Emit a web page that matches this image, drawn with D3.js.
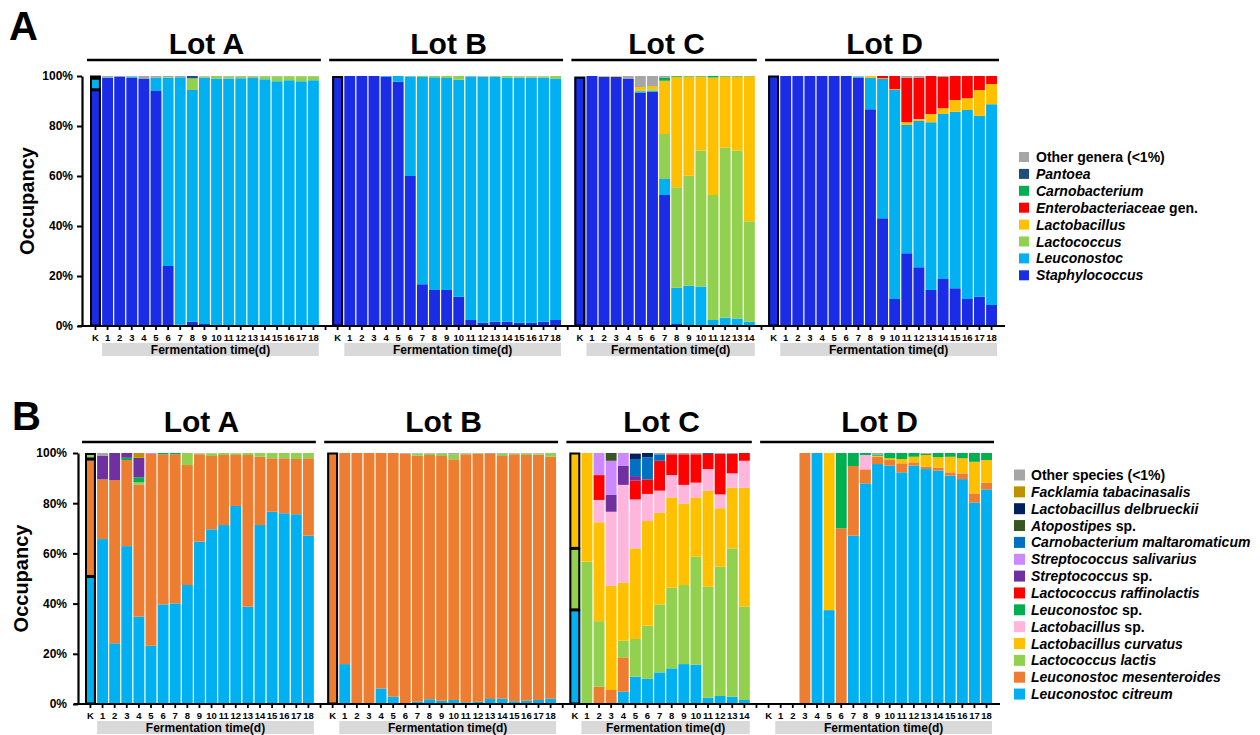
<!DOCTYPE html>
<html><head><meta charset="utf-8">
<script src="https://cdn.jsdelivr.net/npm/d3@7"></script>
<style>
body{margin:0;background:#fff;}
svg{display:block;font-family:"Liberation Sans",Arial,Helvetica,sans-serif;}
</style></head><body>
<svg id="chart" width="1260" height="735"></svg>
<script>
// ---------- categories ----------
const lotNames = ["Lot A", "Lot B", "Lot C", "Lot D"];
const days18 = ["K","1","2","3","4","5","6","7","8","9","10","11","12","13","14","15","16","17","18"];
const days14 = ["K","1","2","3","4","5","6","7","8","9","10","11","12","13","14"];
const lotDays = [days18, days18, days14, days18];
const yTicks = [0, 20, 40, 60, 80, 100];
const xAxisTitle = "Fermentation time(d)";
const yAxisTitle = "Occupancy";

// ---------- Panel A : genera (bottom -> top of stack) ----------
const generaKeys = ["Staphylococcus","Leuconostoc","Lactococcus","Lactobacillus","Enterobacteriaceae","Carnobacterium","Pantoea","Other"];
const generaLabels = ["Staphylococcus","Leuconostoc","Lactococcus","Lactobacillus","Enterobacteriaceae gen.","Carnobacterium","Pantoea","Other genera (<1%)"];
const generaColors = ["#1b2ce6","#00b0f0","#92d050","#ffc000","#ff0000","#00b050","#1f4e79","#a6a6a6"];

const genusLotA = {
  Staphylococcus: [94.5,99.3,99.8,99.3,99.0,94.0,24.0,0.5,1.7,0.8,0.4,0.2,0.1,0.1,0.1,0.1,0.1,0.1,0.1],
  Leuconostoc:    [4.6,0.2,0,0.5,0,5.3,75.3,99.0,92.7,98.5,98.6,98.8,99.0,99.1,98.6,97.8,98.2,97.8,98.2],
  Lactococcus:    [0,0,0,0,0,0,0.3,0,4.7,0.5,1.0,0.7,0.6,0.5,1.2,2.0,1.6,2.0,1.6],
  Pantoea:        [0,0,0,0,0,0,0,0,0.9,0,0,0,0,0,0,0,0,0,0],
  Other:          [0.9,0.5,0.2,0.2,1.0,0.7,0.4,0.5,0,0.2,0,0.3,0.3,0.3,0.1,0.1,0.1,0.1,0.1]
};
const genusLotB = {
  Staphylococcus: [99.8,100,100,100,99.7,97.7,60.0,16.7,14.4,14.4,11.7,2.4,1.3,1.7,1.7,1.3,1.3,1.7,2.4],
  Leuconostoc:    [0,0,0,0,0.3,2.3,39.8,82.9,85.1,84.8,86.8,97.4,98.3,97.9,97.7,98.0,98.0,97.6,96.6],
  Lactococcus:    [0,0,0,0,0,0,0,0.4,0.5,0.8,1.5,0,0.2,0.3,0.6,0.5,0.5,0.5,1.0],
  Other:          [0.2,0,0,0,0,0,0.2,0,0,0,0,0.2,0.2,0.1,0,0.2,0.2,0.2,0]
};
const genusLotC = {
  Staphylococcus: [99.5,100,99.7,99.7,99.0,93.4,93.7,52.4,0.8,0.2,0,0,0,0,0],
  Leuconostoc:    [0.3,0,0,0,0,0.5,0.4,6.4,14.5,15.9,15.8,2.4,3.3,3.0,1.7],
  Lactococcus:    [0,0,0,0,0,0.4,0.6,18.0,40.2,44.0,54.4,50.0,68.0,67.2,40.2],
  Lactobacillus:  [0,0,0.2,0.3,0,1.3,1.3,21.3,44.2,39.7,29.6,47.0,28.5,29.6,58.0],
  Carnobacterium: [0,0,0,0,0,0,0,1.3,0.3,0.2,0.2,0.6,0.2,0.2,0.1],
  Other:          [0.2,0,0.1,0,1.0,4.4,4.0,0.6,0,0,0,0,0,0,0]
};
const genusLotD = {
  Staphylococcus: [100,100,100,100,100,100,100,99.3,86.7,43.1,10.8,29.1,23.5,14.4,18.8,15.1,10.8,11.7,8.4],
  Leuconostoc:    [0,0,0,0,0,0,0,0.5,12.6,55.7,83.6,51.3,58.5,67.1,66.0,70.6,75.6,72.4,80.3],
  Lactobacillus:  [0,0,0,0,0,0,0,0,0.7,0.3,0.3,1.1,0.8,3.3,2.3,4.7,4.7,10.3,8.1],
  Enterobacteriaceae: [0,0,0,0,0,0,0,0,0,0.9,5.3,17.8,16.6,15.2,12.5,9.6,8.9,5.6,3.2],
  Other:          [0,0,0,0,0,0,0,0.2,0,0,0,0.7,0.6,0,0.4,0,0,0,0]
};

// ---------- Panel B : species (bottom -> top of stack) ----------
const speciesKeys = ["citreum","mesenteroides","lactis","curvatus","LbSp","LeucSp","raffinolactis","StrepSp","salivarius","maltaromaticum","Atopostipes","delbrueckii","Facklamia","Other"];
const speciesLabels = ["Leuconostoc citreum","Leuconostoc mesenteroides","Lactococcus lactis","Lactobacillus curvatus","Lactobacillus sp.","Leuconostoc sp.","Lactococcus raffinolactis","Streptococcus sp.","Streptococcus salivarius","Carnobacterium maltaromaticum","Atopostipes sp.","Lactobacillus delbrueckii","Facklamia tabacinasalis","Other species (<1%)"];
const speciesColors = ["#00b0f0","#ed7d31","#92d050","#ffc000","#ffb6dc","#00b050","#ff0000","#7030a0","#cc88ff","#0070c0","#375623","#002060","#bf9000","#a6a6a6"];

const speciesLotA = {
  citreum:       [50.8,65.7,24.2,62.9,34.8,23.2,39.7,40.1,47.4,64.7,69.6,71.3,78.9,38.8,71.3,76.6,76.0,75.6,67.1],
  mesenteroides: [46.8,23.8,65.0,34.3,52.7,76.4,59.8,59.4,47.8,34.8,29.2,27.9,20.3,60.4,27.2,21.3,21.9,22.0,30.8],
  lactis:        [2.2,0,0,0,0.8,0,0,0,4.8,0.3,1.0,0.8,0.6,0.8,1.5,2.1,2.1,2.4,2.1],
  LeucSp:        [0,0,0,0.9,2.0,0,0.5,0.5,0,0,0,0,0,0,0,0,0,0,0],
  StrepSp:       [0,9.5,10.8,1.9,7.8,0,0,0,0,0,0,0,0,0,0,0,0,0,0],
  salivarius:    [0,0,0,0,0,0.4,0,0,0,0,0,0,0,0,0,0,0,0,0],
  Facklamia:     [0,0,0,0,1.9,0,0,0,0,0,0,0,0,0,0,0,0,0,0],
  Other:         [0.2,1.0,0,0,0,0,0,0,0,0.2,0.2,0,0.2,0,0,0,0,0,0]
};
const speciesLotB = {
  citreum:       [0,15.9,0,0,6.2,2.9,0.3,0.9,1.9,1.3,1.6,0.7,0.9,2.0,2.1,1.1,1.3,1.6,2.1],
  mesenteroides: [100,84.1,100,100,93.8,97.1,99.4,98.0,97.3,97.5,95.9,98.8,98.8,97.6,96.7,98.4,97.9,97.7,96.4],
  lactis:        [0,0,0,0,0,0,0,0.9,0.6,0.9,2.0,0.3,0.3,0,0.9,0.3,0.5,0.5,1.5],
  Other:         [0,0,0,0,0,0,0.3,0.2,0.2,0.3,0.5,0.2,0,0.4,0.3,0.2,0.3,0.2,0]
};
const speciesLotC = {
  citreum:        [37.5,0,0,0,4.9,10.9,10.0,12.6,14.2,15.9,15.7,2.5,3.2,2.9,1.6],
  mesenteroides:  [0,0,6.9,5.6,13.7,0,0,0,0,0,0,0,0,0,0],
  lactis:         [24.5,56.7,26.1,0,6.6,15.0,21.2,27.1,32.1,31.5,43.0,44.2,51.5,59.1,37.2],
  curvatus:       [38.0,43.3,39.4,41.5,23.1,36.1,41.7,36.5,36.0,32.5,23.6,38.2,23.3,24.2,47.4],
  LbSp:           [0,0,8.9,29.5,39.0,19.5,10.8,8.8,8.9,7.4,5.9,8.7,5.5,5.7,10.7],
  raffinolactis:  [0,0,9.9,0,0,7.5,5.8,11.9,8.3,12.2,11.3,6.0,16.1,7.7,3.1],
  StrepSp:        [0,0,0,6.7,7.7,1.8,0,0,0,0,0,0,0,0,0],
  salivarius:     [0,0,8.8,13.6,5.0,0,0,0,0,0,0,0,0,0,0],
  maltaromaticum: [0,0,0,0,0,6.8,8.8,2.6,0,0,0,0.4,0,0,0],
  Atopostipes:    [0,0,0,3.1,0,0,0,0,0,0,0,0,0,0,0],
  delbrueckii:    [0,0,0,0,0,2.0,1.7,0,0,0,0,0,0,0,0],
  Other:          [0,0,0,0,0,0.4,0,0.5,0.5,0.5,0.5,0,0.4,0.4,0]
};
const speciesLotD = {
  citreum:       [0,0,0,0,100,37.4,0,67.1,87.9,95.6,95.0,92.3,95.0,93.6,93.0,91.0,89.6,80.3,85.5],
  mesenteroides: [0,0,0,100,0,0,70.0,27.7,5.6,2.9,2.2,3.6,1.3,1.0,1.2,1.3,2.3,3.6,2.7],
  curvatus:      [0,0,0,0,0,62.6,0,0,0,0.4,0.7,1.7,2.2,4.6,4.1,6.2,6.0,12.6,9.0],
  LbSp:          [0,0,0,0,0,0,0,0,5.7,0,0,0,0,0,0,0,0,0,0],
  LeucSp:        [0,0,0,0,0,0,30.0,5.2,0.8,0.5,2.1,2.4,1.5,0.5,1.7,1.5,2.1,3.5,2.8],
  Other:         [0,0,0,0,0,0,0,0,0,0.6,0,0,0,0.3,0,0,0,0,0]
};

// ---------- drawing ----------
const svg = d3.select("#chart");
const FONT_BOLD = 700;

function drawPanel(p) {
  const g = svg.append("g");
  const slots = [];
  lotDays.forEach((days, i) => {
    if (i > 0) slots.push("gap" + i);
    days.forEach(d => slots.push(i + "|" + d));
  });
  const x = d3.scaleBand().domain(slots).range(p.xRange).paddingInner(0.1).paddingOuter(0);
  const y = d3.scaleLinear().domain([0, 100]).range([p.yBottom, p.yTop]);
  const bw = x.bandwidth();

  const outlines = [];
  p.data.forEach((lotData, i) => {
    const days = lotDays[i];
    const rows = days.map((d, j) => {
      const r = { slot: i + "|" + d, day: d };
      p.keys.forEach(k => { r[k] = (lotData[k] || [])[j] || 0; });
      return r;
    });
    const stacked = d3.stack().keys(p.keys)(rows);
    stacked.forEach((layer, li) => {
      const segs = layer.filter(s => s[1] - s[0] > 0);
      g.append("g").selectAll("rect").data(segs).join("rect")
        .attr("x", s => x(s.data.slot)).attr("width", bw)
        .attr("y", s => y(s[1])).attr("height", s => y(s[0]) - y(s[1]))
        .attr("fill", p.colors[li]);
      segs.filter(s => s.data.day === "K" && s[1] - s[0] >= 0.5).forEach(s => outlines.push(s));
    });
  });
  g.append("g").selectAll("rect").data(outlines).join("rect")
    .attr("x", s => x(s.data.slot) + 1).attr("width", bw - 2)
    .attr("y", s => y(s[1]) + 0.5).attr("height", s => Math.max(0, y(s[0]) - y(s[1]) - 1))
    .attr("fill", "none").attr("stroke", "#000").attr("stroke-width", 2);

  // y axis
  const ya = g.append("g").attr("transform", `translate(${p.axisX},0)`)
    .call(d3.axisLeft(y).tickValues(yTicks).tickFormat(d => d + "%").tickSize(5).tickSizeOuter(0).tickPadding(p.labelPad));
  ya.select(".domain").attr("stroke-width", 2.2).attr("stroke", "#000");
  ya.selectAll(".tick line").attr("stroke-width", 2).attr("stroke", "#000");
  ya.selectAll(".tick text").attr("font-size", 12).attr("font-weight", FONT_BOLD).attr("fill", "#000")
    .attr("font-family", "Liberation Sans, Arial, sans-serif");

  // x axis
  const xa = g.append("g").attr("transform", `translate(0,${p.yBottom})`)
    .call(d3.axisBottom(x).tickSize(4).tickPadding(4)
      .tickFormat(s => s.startsWith("gap") ? "" : s.split("|")[1]));
  xa.select(".domain").remove();
  xa.selectAll(".tick line").attr("stroke-width", 1.8).attr("stroke", "#000");
  xa.selectAll(".tick text").attr("font-size", 9.5).attr("font-weight", FONT_BOLD).attr("fill", "#000")
    .attr("font-family", "Liberation Sans, Arial, sans-serif");
  g.append("line").attr("x1", p.axisX - 4).attr("x2", p.xEnd)
    .attr("y1", p.yBottom).attr("y2", p.yBottom).attr("stroke", "#000").attr("stroke-width", 2.2);

  // lot titles, lines, time bands
  lotDays.forEach((days, i) => {
    const x0 = x(i + "|K"), x1 = x(i + "|" + days[days.length - 1]) + bw;
    g.append("text").attr("x", (x0 + x1) / 2 + 2).attr("y", p.titleY).attr("text-anchor", "middle")
      .attr("font-size", 30).attr("font-weight", FONT_BOLD).text(lotNames[i]);
    g.append("line").attr("x1", x0 - 3).attr("x2", x1 + 2).attr("y1", p.lineY).attr("y2", p.lineY)
      .attr("stroke", "#000").attr("stroke-width", 2.5);
    const b0 = x(i + "|1");
    g.append("rect").attr("x", b0).attr("width", x1 - b0)
      .attr("y", p.yBottom + 17).attr("height", 13).attr("fill", "#d9d9d9");
    g.append("text").attr("x", (b0 + x1) / 2).attr("y", p.yBottom + 28).attr("text-anchor", "middle")
      .attr("font-size", 12).attr("font-weight", FONT_BOLD).text(xAxisTitle);
  });

  // panel letter & y title
  g.append("text").attr("x", p.letterX).attr("y", p.letterY).attr("font-size", 40)
    .attr("font-weight", FONT_BOLD).text(p.letter);
  g.append("text").attr("transform", `translate(${p.yTitleX},${(p.yTop + p.yBottom) / 2}) rotate(-90)`)
    .attr("text-anchor", "middle").attr("font-size", 20).attr("font-weight", FONT_BOLD).text(yAxisTitle);

  // legend (top of stack listed first)
  const order = d3.range(p.keys.length).reverse();
  order.forEach((ki, idx) => {
    const ly = p.legY0 + idx * p.legStep;
    g.append("rect").attr("x", p.legX).attr("y", ly - p.legSq / 2).attr("width", p.legSq).attr("height", p.legSq)
      .attr("fill", p.colors[ki]);
    const label = p.labels[ki];
    const t = g.append("text").attr("x", p.legX + p.legTextDx).attr("y", ly + 5)
      .attr("font-size", 14).attr("font-weight", FONT_BOLD);
    if (label.startsWith("Other")) {
      t.append("tspan").text(label);
    } else {
      const parts = label.split(" ");
      const last = parts[parts.length - 1];
      if (last === "sp." || last === "gen.") {
        t.append("tspan").attr("font-style", "italic").text(parts.slice(0, -1).join(" "));
        t.append("tspan").text(" " + last);
      } else {
        t.append("tspan").attr("font-style", "italic").text(label);
      }
    }
  });
}

drawPanel({
  letter: "A", letterX: 9, letterY: 40,
  data: [genusLotA, genusLotB, genusLotC, genusLotD],
  keys: generaKeys, labels: generaLabels, colors: generaColors,
  xRange: [90, 997], xEnd: 1005, axisX: 82, labelPad: 4,
  yTop: 76, yBottom: 326, titleY: 54, lineY: 60, yTitleX: 34,
  legX: 1019, legY0: 157, legStep: 16.9, legSq: 10, legTextDx: 17
});
drawPanel({
  letter: "B", letterX: 12, letterY: 430,
  data: [speciesLotA, speciesLotB, speciesLotC, speciesLotD],
  keys: speciesKeys, labels: speciesLabels, colors: speciesColors,
  xRange: [85, 992], xEnd: 1000, axisX: 78, labelPad: 6,
  yTop: 453, yBottom: 704, titleY: 432, lineY: 442, yTitleX: 28,
  legX: 1014, legY0: 475, legStep: 16.85, legSq: 11, legTextDx: 17
});
</script>
</body></html>
